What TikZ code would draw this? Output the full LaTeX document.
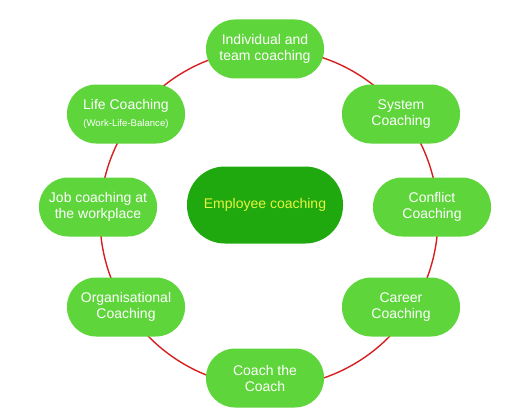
\documentclass[tikz,border=0pt]{standalone}
\usepackage{fontspec}
\setmainfont{Liberation Sans}
\definecolor{leafgreen}{HTML}{5ED63B}
\definecolor{hubgreen}{HTML}{1FA90E}
\definecolor{hubtext}{HTML}{E6F53F}
\definecolor{ringred}{HTML}{D61F1F}
\begin{document}
\begin{tikzpicture}[x=1pt,y=-1pt,
  leaf/.style={fill=leafgreen, draw=none, rounded corners=29pt,
    minimum width=118pt, minimum height=59pt, inner sep=0pt,
    text=white, align=center, font=\fontsize{14}{16}\selectfont},
  hub/.style={fill=hubgreen, draw=none, rounded corners=38pt,
    minimum width=156pt, minimum height=77pt, inner sep=0pt,
    text=hubtext, align=center, font=\fontsize{14}{16}\selectfont},
  ring/.style={draw=ringred, line width=1.4pt},
  smalltxt/.style={font=\fontsize{9.6}{11}\selectfont}]
\useasboundingbox (0,0) rectangle (530,420);
\fill[white] (0,0) rectangle (530,420);
\coordinate (ringcentre) at (269,218);
\draw[ring] (ringcentre) circle[radius=169pt];
\node[hub] (employee) at (265,205) {Employee coaching};
\node[leaf] (individual) at (265,49) {Individual and\\team coaching};
\node[leaf] (system) at (401,114) {System\\Coaching};
\node[leaf] (conflict) at (432,207) {Conflict\\Coaching};
\node[leaf] (career) at (401,307) {Career\\Coaching};
\node[leaf] (coach) at (265,378) {Coach the\\Coach};
\node[leaf] (organisational) at (126,307) {Organisational\\Coaching};
\node[leaf] (job) at (98,207) {Job coaching at\\the workplace};
\node[leaf] (life) at (126,114) {Life Coaching\\[1pt]{\fontsize{9.6}{11}\selectfont(Work-Life-Balance)}};
\end{tikzpicture}
\end{document}
